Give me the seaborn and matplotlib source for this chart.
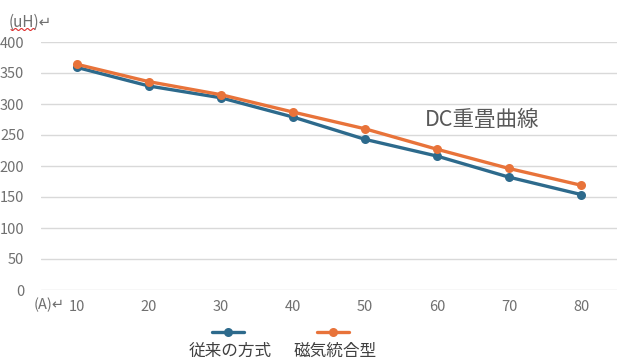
import numpy as np
import pandas as pd
import matplotlib
matplotlib.use("Agg")
import matplotlib.pyplot as plt
from matplotlib.lines import Line2D
import seaborn as sns

# Current (A) and inductance (uH) for the two designs
current = [10, 20, 30, 40, 50, 60, 70, 80]
conventional = [359, 329, 310, 279, 243, 216, 182, 154]
integrated = [364, 336, 315, 287, 260, 227, 196, 169]
series_names = ["従来の方式", "磁気統合型"]
y_ticks = [0, 50, 100, 150, 200, 250, 300, 350, 400]

BLUE = "#2d6a8c"
ORANGE = "#e8733a"
GRAY = "#707070"

sns.set_theme(style="white")
plt.rcParams["font.family"] = ["Noto Sans CJK JP", "DejaVu Sans"]

df = pd.DataFrame({
    "current": current * 2,
    "inductance": conventional + integrated,
    "series": [series_names[0]] * len(current) + [series_names[1]] * len(current),
})

W, H = 617, 358
fig = plt.figure(figsize=(W / 100, H / 100), dpi=100)
ax = fig.add_axes([41 / W, 1 - 290 / H, 1 - 41 / W, (290 - 42) / H])

sns.lineplot(data=df, x="current", y="inductance", hue="series",
             palette=[BLUE, ORANGE], marker="o", markersize=6.5,
             markeredgewidth=0, linewidth=2.4, legend=False, ax=ax)

ax.set_xlim(5, 85)
ax.set_ylim(0, 400)
ax.set_xticks(current)
ax.set_yticks(y_ticks)
ax.set_xlabel("")
ax.set_ylabel("")
ax.grid(axis="y", color="#d9d9d9", linewidth=1.0)
ax.set_axisbelow(True)
for s in ax.spines.values():
    s.set_visible(False)
ax.tick_params(axis="both", length=0, labelsize=10.5, labelcolor=GRAY)
ax.tick_params(axis="y", pad=12)
ax.tick_params(axis="x", pad=7)

def px(x, y):
    return x / W, 1 - y / H

# unit labels
fig.text(*px(9, 22), "(uH)↵", fontsize=11, color=GRAY, va="center", ha="left")
fig.text(*px(34, 305), "(A)↵", fontsize=10.5, color=GRAY, va="center", ha="left")

# spell-check style wavy underline under the unit
wx = np.linspace(11, 35, 40)
wy = 29.5 + 1.0 * np.sin((wx - 11) / 24 * 2 * np.pi * 4)
fig.add_artist(Line2D(wx / W, 1 - wy / H, color="#e03030", linewidth=0.8))

# chart title inside the plot area
fig.text(*px(482, 120), "DC重畳曲線", fontsize=15.5, color="#595959",
         ha="center", va="center")

# legend: sample line above each series name
for cx, col, name in [(228, BLUE, series_names[0]), (333, ORANGE, series_names[1])]:
    fig.add_artist(Line2D([(cx - 16) / W, (cx + 16) / W], [1 - 332 / H] * 2,
                          color=col, linewidth=2.4))
    fig.add_artist(Line2D([cx / W], [1 - 332 / H], color=col, marker="o",
                          markersize=6.5, markeredgewidth=0))
    fig.text(*px(cx + 2, 351), name, fontsize=12, color="#404040",
             ha="center", va="center")

fig.savefig("out.png", dpi=100, facecolor="white")
